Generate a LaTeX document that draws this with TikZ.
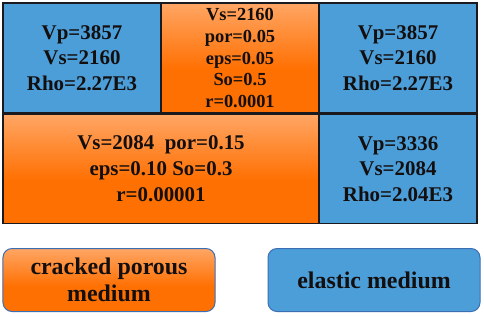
\documentclass[tikz,border=0pt]{standalone}
\usepackage{fontspec}
\setmainfont{Liberation Serif}
\definecolor{bluefill}{RGB}{76,158,217}
\definecolor{orD}{RGB}{255,112,2}
\definecolor{orM}{RGB}{255,160,90}
\definecolor{orL}{RGB}{255,228,205}
\definecolor{edge}{RGB}{25,25,30}
\definecolor{legedge}{RGB}{60,110,180}
\definecolor{txt}{RGB}{20,15,15}
\pgfdeclareverticalshading{orshade}{100bp}{color(0bp)=(orD); color(45bp)=(orD); color(72bp)=(orM); color(100bp)=(orL)}
\begin{document}
\begin{tikzpicture}[x=1bp,y=-1bp,
  cell/.style={draw=edge,line width=1.6bp,inner sep=0pt,align=center,text=txt,
    font=\fontsize{21}{25.5}\selectfont\bfseries},
  bluecell/.style={cell,fill=bluefill},
  orcell/.style={cell,shading=orshade},
  legbox/.style={draw=legedge,line width=1bp,rounded corners=9bp,inner sep=0pt,align=center,
    text=txt,minimum width=212bp,minimum height=63bp,font=\fontsize{24}{27}\selectfont\bfseries}]
\fill[white] (0,0) rectangle (484,316);
\useasboundingbox (0,0) rectangle (484,316);
% top row
\node[bluecell,minimum width=158bp,minimum height=110bp] (tl) at (82,58) {Vp=3857\\Vs=2160\\Rho=2.27E3};
\node[orcell,minimum width=158bp,minimum height=110bp,font=\fontsize{18.5}{21.6}\selectfont\bfseries] (tm) at (240,58) {Vs=2160\\por=0.05\\eps=0.05\\So=0.5\\r=0.0001};
\node[bluecell,minimum width=158bp,minimum height=110bp] (tr) at (398,58) {Vp=3857\\Vs=2160\\Rho=2.27E3};
% bottom row
\node[orcell,minimum width=316bp,minimum height=109bp,font=\fontsize{21}{26}\selectfont\bfseries] (bl) at (161,169) {Vs=2084\ \ por=0.15\\eps=0.10 So=0.3\\r=0.00001};
\node[bluecell,minimum width=158bp,minimum height=109bp] (br) at (398,169) {Vp=3336\\Vs=2084\\Rho=2.04E3};
% legend
\node[legbox,shading=orshade] (lo) at (109,280) {cracked porous\\medium};
\node[legbox,fill=bluefill] (lb) at (374,280) {elastic medium};
\end{tikzpicture}
\end{document}
